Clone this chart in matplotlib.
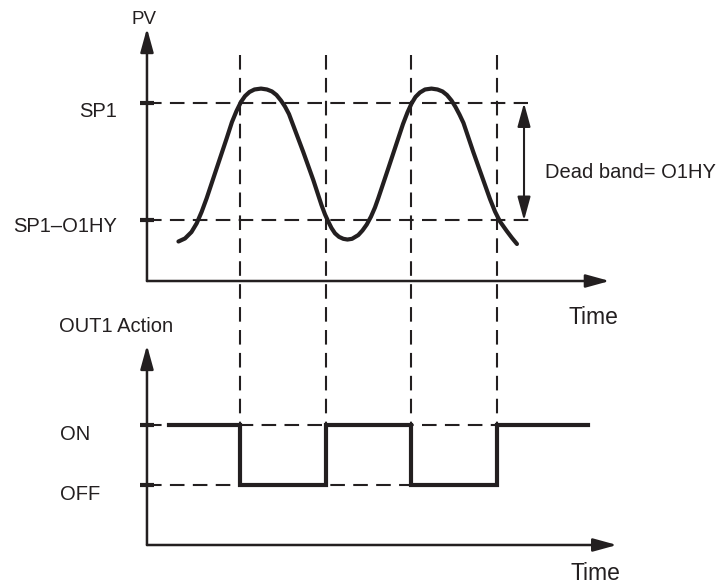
import matplotlib
matplotlib.use("Agg")
import matplotlib.pyplot as plt

plt.rcParams['font.family'] = ['Liberation Sans', 'DejaVu Sans']

# process value curve (time, PV), SP1 = 100
pv_t = [0.366, 0.442, 0.517, 0.578, 0.636, 0.694, 0.810, 0.927, 0.988, 1.041,
        1.093, 1.140, 1.192, 1.250, 1.326, 1.395, 1.453, 1.506, 1.558, 1.605,
        1.651, 1.686, 1.817, 1.934, 2.029, 2.070, 2.108, 2.145, 2.186, 2.233,
        2.283, 2.331, 2.384, 2.457, 2.506, 2.555, 2.605, 2.651, 2.690, 2.806,
        2.922, 2.977, 3.029, 3.076, 3.122, 3.174, 3.233, 3.308, 3.378, 3.436,
        3.488, 3.541, 3.587, 3.634, 3.680, 3.794, 3.910, 3.988, 4.047, 4.105,
        4.183, 4.244, 4.302]
pv = [22.2, 23.9, 27.5, 32.4, 38.9, 46.5, 63.3, 80.2, 89.3, 95.5,
      100.6, 103.9, 106.2, 107.6, 108.1, 107.6, 106.5, 104.5, 101.4, 98.0,
      93.8, 89.3, 72.5, 56.7, 42.7, 37.4, 33.4, 29.8, 26.8, 24.8,
      23.7, 23.3, 23.7, 25.8, 28.4, 31.7, 36.2, 41.3, 46.6, 63.3,
      80.2, 88.2, 94.7, 99.7, 103.4, 105.9, 107.6, 108.1, 107.6, 106.5,
      104.5, 101.4, 97.8, 93.5, 88.8, 72.5, 56.7, 46.1, 39.0, 33.4,
      28.1, 24.2, 20.8]

sp1 = 100
sp1_low = 34          # SP1 - O1HY
switch_t = [1.08, 2.08, 3.07, 4.07]

# output action, 2 = ON, 1 = OFF
out_t = [0.26, 1.08, 2.08, 3.07, 4.07, 5.13]
out_state = [2, 1, 2, 1, 2, 2]
on_level = 2
off_level = 1

ink = '#231f20'
fs = 14.5

fig = plt.figure(figsize=(7.25, 5.84), dpi=100)
ax1 = fig.add_axes([0, 284 / 584, 1, 300 / 584])
ax2 = fig.add_axes([0, 0, 1, 284 / 584])
for ax in (ax1, ax2):
    ax.set_xlim(-1.709, 6.721)
    ax.axis('off')
    ax.patch.set_visible(False)
ax1.set_ylim(-10.67, 157.87)
ax2.set_ylim(-0.65, 4.083)

arrow = dict(arrowstyle='-|>,head_length=0.8,head_width=0.22', mutation_scale=18,
             lw=1.8, color=ink, shrinkA=0, shrinkB=0)

# top panel: PV
ax1.annotate('', xy=(0, 142), xytext=(0, 0), arrowprops=arrow)
ax1.annotate('', xy=(5.38, 0), xytext=(0, 0), arrowprops=arrow)
dash = (0, (7, 4))
ax1.plot([0, 4.43], [sp1, sp1], color=ink, lw=1.5, linestyle=dash)
ax1.plot([0, 4.48], [sp1_low, sp1_low], color=ink, lw=1.5, linestyle=dash)
for lv in (sp1, sp1_low):
    ax1.plot([-0.08, 0.08], [lv, lv], color=ink, lw=3, solid_capstyle='butt')
for t in switch_t:
    ax1.plot([t, t], [127, -80.9], color=ink, lw=1.5, linestyle=dash, clip_on=False)
ax1.plot(pv_t, pv, color=ink, lw=3, solid_capstyle='round', solid_joinstyle='round')
ax1.annotate('', xy=(4.384, sp1), xytext=(4.384, sp1_low),
             arrowprops=dict(arrowstyle='<|-|>,head_length=0.8,head_width=0.22',
                             mutation_scale=18, lw=1.5, color=ink, shrinkA=0, shrinkB=0))

ax1.text(-0.029, 144.4, 'PV', ha='center', va='baseline', fontsize=fs - 1, color=ink)
ax1.text(-0.349, 92.1, 'SP1', ha='right', va='baseline', fontsize=fs, color=ink)
ax1.text(-0.349, 27.7, 'SP1–O1HY', ha='right', va='baseline', fontsize=fs, color=ink)
ax1.text(4.628, 58.0, 'Dead band= O1HY', ha='left', va='baseline', fontsize=fs, color=ink)
ax1.text(4.907, -24.2, 'Time', ha='left', va='baseline', fontsize=fs + 2, color=ink)

# bottom panel: OUT1 action
ax2.annotate('', xy=(0, 3.33), xytext=(0, 0), arrowprops=arrow)
ax2.annotate('', xy=(5.465, 0), xytext=(0, 0), arrowprops=arrow)
ax2.plot([0, switch_t[3]], [on_level, on_level], color=ink, lw=1.5, linestyle=dash)
ax2.plot([0, switch_t[2]], [off_level, off_level], color=ink, lw=1.5, linestyle=dash)
for lv in (on_level, off_level):
    ax2.plot([-0.08, 0.08], [lv, lv], color=ink, lw=3, solid_capstyle='butt')
ax2.step(out_t, out_state, where='post', color=ink, lw=3, solid_joinstyle='miter')

ax2.text(-1.023, 3.545, 'OUT1 Action', ha='left', va='baseline', fontsize=fs, color=ink)
ax2.text(-1.012, 1.75, 'ON', ha='left', va='baseline', fontsize=fs, color=ink)
ax2.text(-1.012, 0.75, 'OFF', ha='left', va='baseline', fontsize=fs, color=ink)
ax2.text(4.919, -0.583, 'Time', ha='left', va='baseline', fontsize=fs + 2, color=ink)

fig.savefig('out.png', dpi=100)
